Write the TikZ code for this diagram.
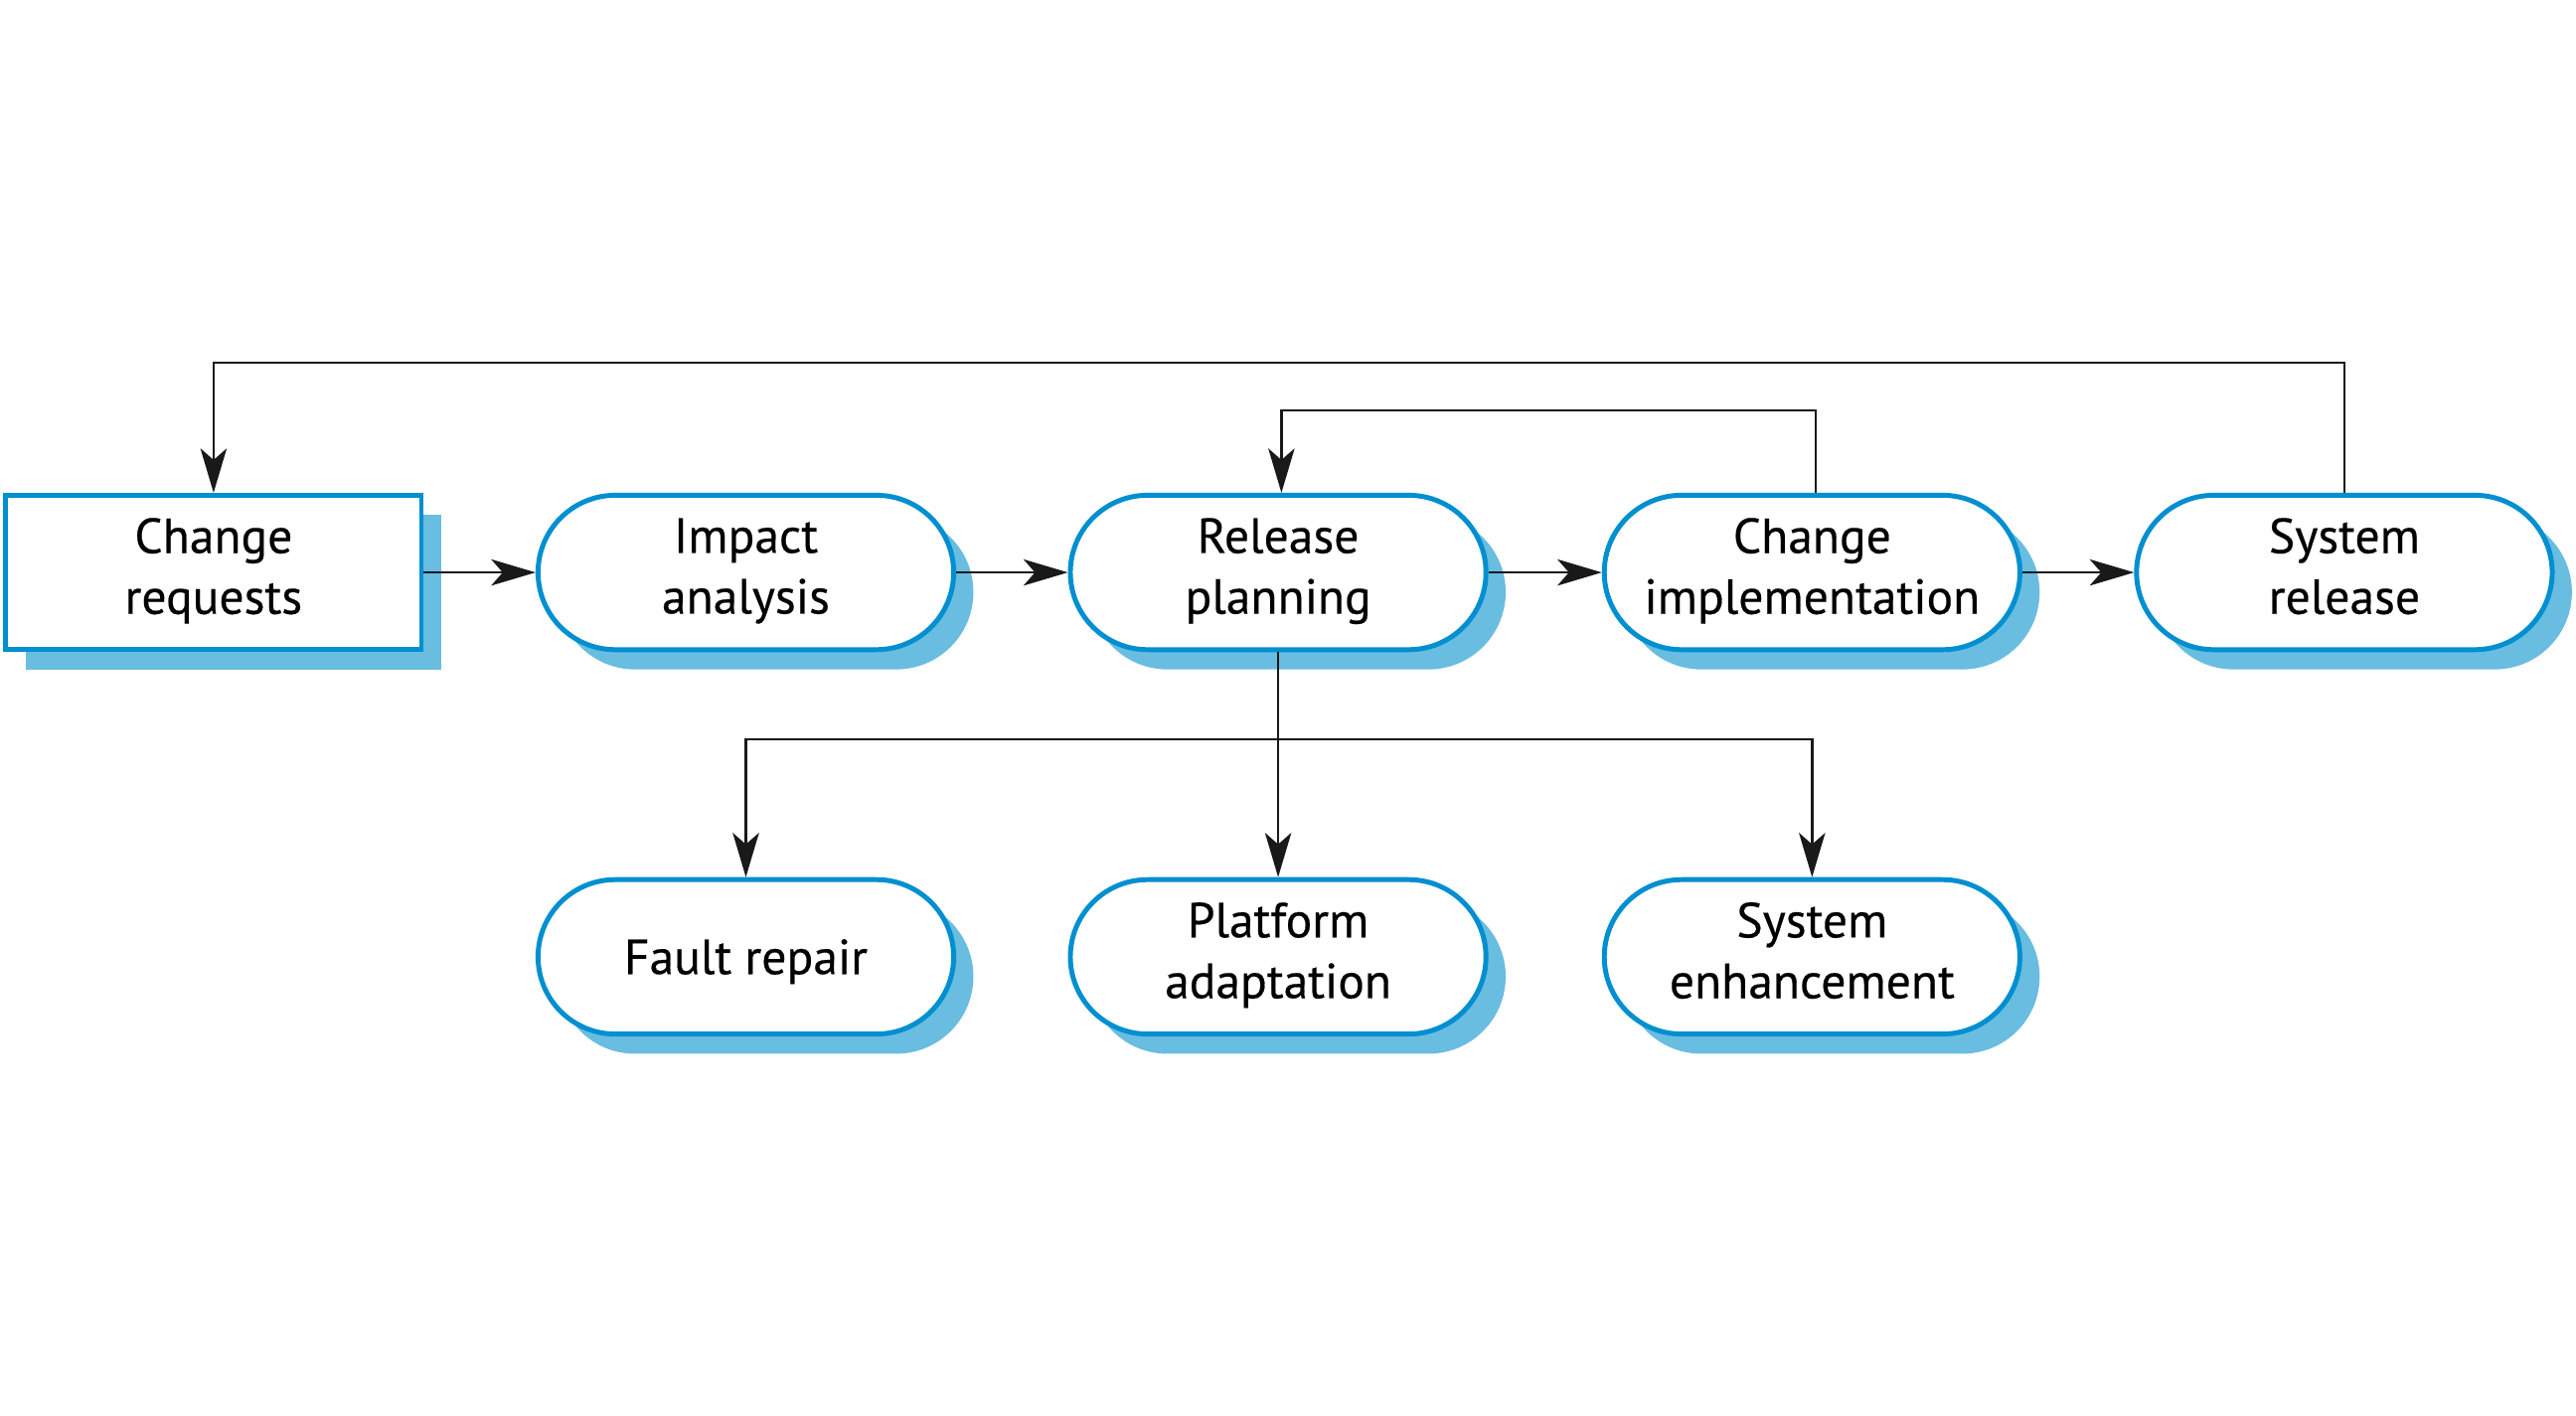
\documentclass[tikz,border=0pt]{standalone}
\usepackage{fontspec}
\setmainfont{PT Sans}[FakeBold=0.35]
\usetikzlibrary{shapes.misc,shadows,arrows.meta}
\definecolor{edgeblue}{RGB}{0,143,208}
\definecolor{shadeblue}{RGB}{105,189,224}
\tikzset{
  base/.style={draw=edgeblue, line width=3pt, fill=white, align=center,
    minimum width=253pt, minimum height=94pt, inner sep=0pt,
    font=\fontsize{30pt}{37pt}\selectfont,
    execute at begin node={\rule{0pt}{29pt}}, execute at end node={\rule[-8pt]{0pt}{8pt}},
    general shadow={fill=shadeblue, shadow xshift=12pt, shadow yshift=-12pt}},
  boxnode/.style={base, rectangle},
  pill/.style={base, rounded rectangle, rounded rectangle arc length=180},
  arr/.style={draw=black!90, line width=1.4pt, -{Stealth[length=27pt,width=16pt,inset=7pt]}},
  ln/.style={draw=black!90, line width=1.4pt}
}
\begin{document}
\begin{tikzpicture}[x=1pt,y=-1pt]
\useasboundingbox (0,0) rectangle (1568,862);
\node[boxnode] (cr) at (130,348.5) {Change\\requests};
\node[pill] (ia) at (454,348.5) {Impact\\analysis};
\node[pill] (rp) at (778,348.5) {Release\\planning};
\node[pill] (ci) at (1103,348.5) {Change\\implementation};
\node[pill] (sr) at (1427,348.5) {System\\release};
\node[pill] (fr) at (454,582.5) {Fault repair};
\node[pill] (pa) at (778,582.5) {Platform\\adaptation};
\node[pill] (se) at (1103,582.5) {System\\enhancement};
\draw[arr] (cr.east) -- (ia.west);
\draw[arr] (ia.east) -- (rp.west);
\draw[arr] (rp.east) -- (ci.west);
\draw[arr] (ci.east) -- (sr.west);
\draw[arr] ([xshift=2pt]ci.north) -- ++(0,-50) -| ([xshift=2pt]rp.north);
\draw[arr] (sr.north) -- ++(0,-79) -| (cr.north);
\coordinate (br) at ([yshift=-53pt]rp.south);
\draw[arr] (rp.south) -- (pa.north);
\draw[arr] (br) -| (fr.north);
\draw[arr] (br) -| (se.north);
\end{tikzpicture}
\end{document}
